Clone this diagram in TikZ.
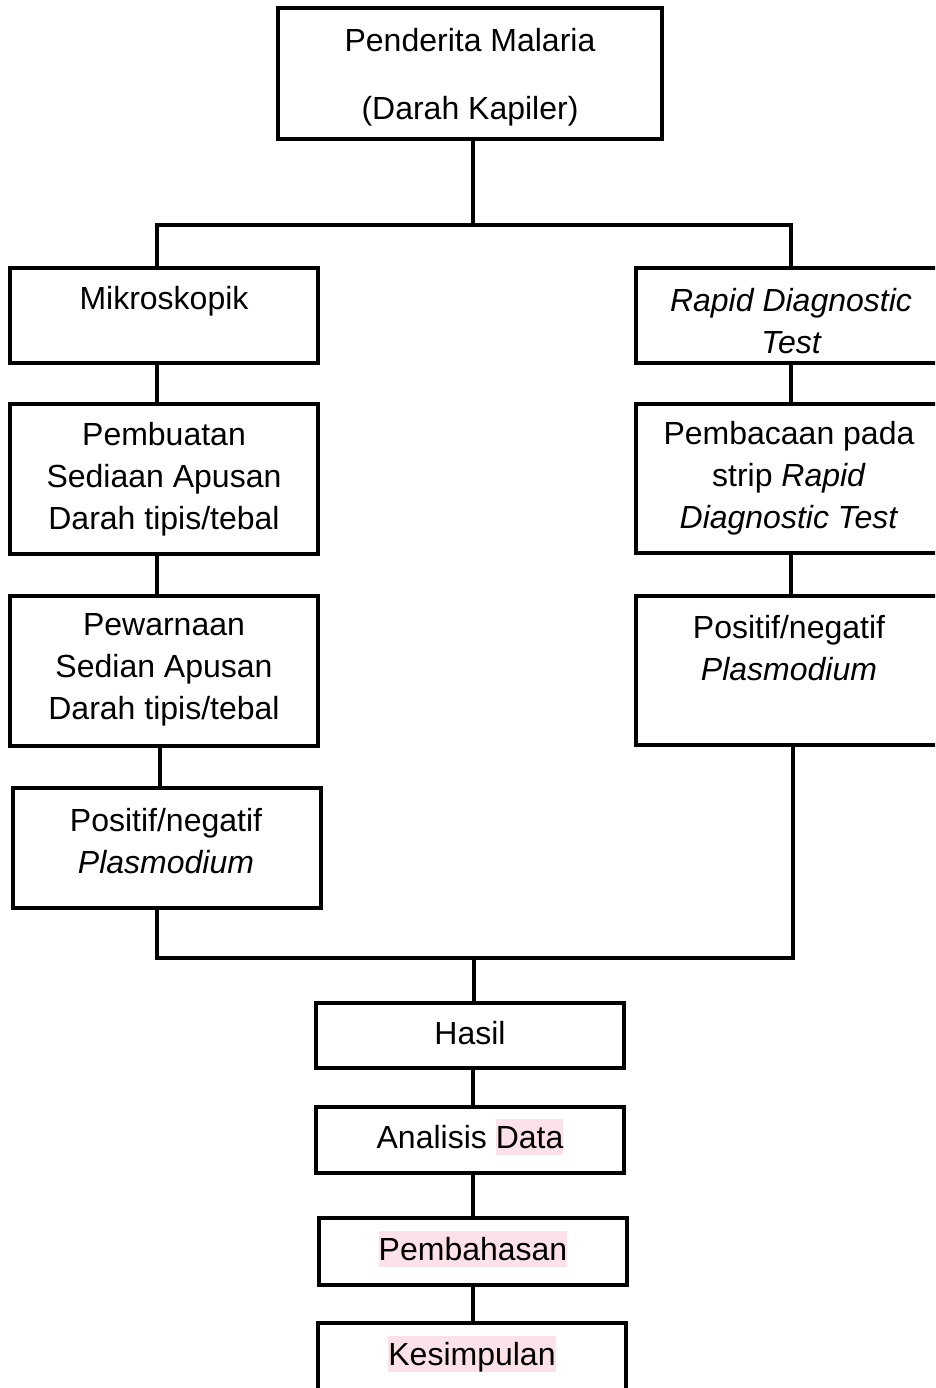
\documentclass[tikz,border=0pt]{standalone}
\usepackage{fontspec}
\setmainfont{Liberation Sans}
\definecolor{hl}{RGB}{253,225,232}
\newcommand{\hlt}[1]{{\setlength{\fboxsep}{0pt}\colorbox{hl}{\rule[-0.212em]{0pt}{1.117em}#1}}}
\begin{document}
\begin{tikzpicture}[x=1pt,y=-1pt,
  box/.style={draw, line width=3.5pt, rectangle, inner sep=0pt, outer sep=0pt, anchor=north west},
  txt/.style={font=\fontsize{32}{42}\selectfont, align=center, inner sep=0pt},
  conn/.style={line width=3.5pt}]
\useasboundingbox (0,0) rectangle (935,1388);
\clip (0,0) rectangle (935,1388);
% boxes
\node[box, minimum width=384pt, minimum height=131pt] (top) at (278,8) {};
\node[box, minimum width=308pt, minimum height=95pt] (mik) at (10,268) {};
\node[box, minimum width=310pt, minimum height=95pt] (rdt) at (636,268) {};
\node[box, minimum width=308pt, minimum height=150pt] (buat) at (10,404) {};
\node[box, minimum width=308pt, minimum height=150pt] (warna) at (10,596) {};
\node[box, minimum width=308pt, minimum height=120pt] (posL) at (13,788) {};
\node[box, minimum width=310pt, minimum height=149pt] (baca) at (636,404) {};
\node[box, minimum width=310pt, minimum height=149pt] (posR) at (636,596) {};
\node[box, minimum width=308pt, minimum height=65pt] (hasil) at (316,1003) {};
\node[box, minimum width=308pt, minimum height=66pt] (anal) at (316,1107) {};
\node[box, minimum width=308pt, minimum height=67pt] (bahas) at (319,1218) {};
\node[box, minimum width=308pt, minimum height=100pt] (simpul) at (318,1323) {};
% texts
\node[txt, font=\fontsize{32}{68}\selectfont] (ttop) at (470,77) {Penderita Malaria\\(Darah Kapiler)};
\node[txt] (tmik) at (164,301) {Mikroskopik};
\node[txt] (trdt) at (791,321) {\itshape Rapid Diagnostic\\\itshape Test};
\node[txt] (tbuat) at (164,479) {Pembuatan\\Sediaan Apusan\\Darah tipis/tebal};
\node[txt] (twarna) at (164,670) {Pewarnaan\\Sedian Apusan\\Darah tipis/tebal};
\node[txt] (tposL) at (166,841) {Positif/negatif\\\textit{Plasmodium}};
\node[txt] (tbaca) at (789,478) {Pembacaan pada\\strip \textit{Rapid}\\\textit{Diagnostic Test}};
\node[txt] (tposR) at (789,648) {Positif/negatif\\\textit{Plasmodium}};
\node[txt] (thasil) at (470,1033) {Hasil};
\node[txt] (tanal) at (470,1137) {Analisis \hlt{Data}};
\node[txt] (tbahas) at (473,1249) {\hlt{Pembahasan}};
\node[txt] (tsimpul) at (472,1354) {\hlt{Kesimpulan}};
% guide coordinates
\coordinate (cL) at (157,0);
\coordinate (cR) at (791,0);
\coordinate (cR2) at (793,0);
\coordinate (cM) at (473,0);
\coordinate (j1) at (473,225);
\coordinate (j2) at (474,958);
% connectors
\draw[conn] (j1 |- top.south) -- (j1);
\draw[conn] (cL |- mik.north) -- (cL |- j1) -- (cR |- j1) -- (cR |- rdt.north);
\draw[conn] (cL |- mik.south) -- (cL |- buat.north);
\draw[conn] (cL |- buat.south) -- (cL |- warna.north);
\draw[conn] (160,0 |- warna.south) -- (160,0 |- posL.north);
\draw[conn] (cR |- rdt.south) -- (cR |- baca.north);
\draw[conn] (cR |- baca.south) -- (cR |- posR.north);
\draw[conn] (cL |- posL.south) -- (cL |- j2) -- (cR2 |- j2) -- (cR2 |- posR.south);
\draw[conn] (j2) -- (j2 |- hasil.north);
\draw[conn] (cM |- hasil.south) -- (cM |- anal.north);
\draw[conn] (cM |- anal.south) -- (cM |- bahas.north);
\draw[conn] (cM |- bahas.south) -- (cM |- simpul.north);
\end{tikzpicture}
\end{document}
